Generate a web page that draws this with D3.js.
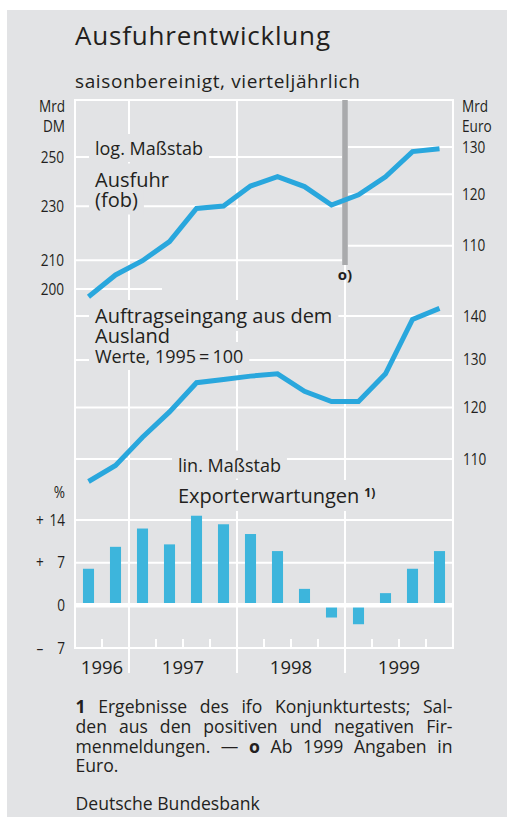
<!DOCTYPE html>
<html><head><meta charset="utf-8">
<script src="https://cdn.jsdelivr.net/npm/d3@7"></script>
<style>
body{margin:0;background:#fff}
svg{display:block}
text{font-family:"Open Sans","Noto Sans",sans-serif;fill:#231f20}
</style>
</head><body>
<svg id="c" width="515" height="817"></svg>
<script>
// ---------------- data ----------------
const quarters = ["1996 Q3","1996 Q4","1997 Q1","1997 Q2","1997 Q3","1997 Q4",
  "1998 Q1","1998 Q2","1998 Q3","1998 Q4","1999 Q1","1999 Q2","1999 Q3","1999 Q4"];
const years = ["1996","1997","1998","1999"];
// Ausfuhr (fob): Mrd DM until 1998, Mrd Euro from 1999
const ausfuhrDM = [197.4,204.8,209.8,216.7,229.2,230.1,238.0,241.8,237.8,230.5];
const ausfuhrEuro = [119.9,123.6,129.0,129.6];
// Auftragseingang aus dem Ausland, 1995 = 100
const auftrag = [105.9,108.8,114.1,119.1,125.1,125.8,126.5,127.0,123.3,121.2,121.2,127.0,139.2,141.8];
// Exporterwartungen (ifo), Salden in %
const exportErw = [6.0,9.6,12.6,10.0,14.7,13.3,11.7,8.9,2.7,-2.0,-3.1,2.0,6.0,8.9];
const dmTicks = [200,210,230,250];
const euroTicks = [110,120,130];
const auftragTicks = [110,120,130,140];
const pctTicks = [-7,0,7,14];
const pctLabels = [["–","7"],["","0"],["+","7"],["+","14"]];
const DM_PER_EURO = 1.95583;
const footLines = [
  [{t:"1",b:true},{t:" Ergebnisse des ifo Konjunkturtests; Sal-"}],
  [{t:"den aus den positiven und negativen Fir-"}],
  [{t:"menmeldungen. — "},{t:"o",b:true},{t:" Ab 1999 Angaben in"}],
  [{t:"Euro."}]
];

// ---------------- layout ----------------
const BG = "#e2e3e5", GRID = "#ffffff", LINEC = "#29a7dd", BARC = "#3db5dc";
const L = 75, R = 453, T = 100, B = 648;
const svg = d3.select("#c");
svg.append("rect").attr("x",7).attr("y",10).attr("width",500).attr("height",817).attr("fill",BG);

const x = d3.scaleBand().domain(quarters).range([L,R]).paddingInner(0).paddingOuter(0);
const xBar = d3.scaleBand().domain(quarters).range([L,R]).paddingInner(0.59).paddingOuter(0.295);
const cx = q => x(q) + x.bandwidth()/2;
const yDM = d3.scaleLog().domain([200,250]).range([289,157]);
const yEuro = v => yDM(v*DM_PER_EURO);
const yAuf = d3.scaleLog().domain([110,140]).range([459,316]);
const yPct = d3.scaleLinear().domain([-7,14]).range([B,520]);

const euroStart = x("1999 Q1");

const gGrid = svg.append("g");
const gMask = svg.append("g");
const gData = svg.append("g");
const gText = svg.append("g");

function hline(y,x1,x2,w){ gGrid.append("line").attr("x1",x1).attr("x2",x2).attr("y1",y).attr("y2",y)
  .attr("stroke",GRID).attr("stroke-width",w||2); }
function vline(xx,y1,y2,w){ gGrid.append("line").attr("x1",xx).attr("x2",xx).attr("y1",y1).attr("y2",y2)
  .attr("stroke",GRID).attr("stroke-width",w||2); }

// frame
hline(T,L-1,R+1); hline(B,L-1,R+1);
vline(L,T,B); vline(R,T,B);
// year separators & quarter ticks
quarters.forEach((q,i)=>{
  if(i===0) return;
  const xx = x(q);
  if(q.endsWith("Q1")) vline(xx,T,673);
  else vline(xx,639,B);
});
// DM grid (until 1998), Euro grid (from 1999)
dmTicks.forEach(t=> hline(yDM(t), L, t===200 ? 162 : euroStart-3));
euroTicks.forEach(t=> hline(yEuro(t), euroStart+3, R));
auftragTicks.forEach(t=> hline(yAuf(t), L, R));
pctTicks.filter(t=>t>0).forEach(t=> hline(yPct(t), L, R));

// gray break bar (Euro changeover)
gData.append("rect").attr("x",euroStart-2.75).attr("y",T).attr("width",5.5).attr("height",165).attr("fill","#a9aaac");

// ---------------- data marks ----------------
const line = d3.line().x(d=>d[0]).y(d=>d[1]);
const ausPts = quarters.map((q,i)=>[cx(q), i<ausfuhrDM.length ? yDM(ausfuhrDM[i]) : yEuro(ausfuhrEuro[i-ausfuhrDM.length])]);
gData.append("path").attr("d",line(ausPts)).attr("fill","none").attr("stroke",LINEC).attr("stroke-width",5);
const aufPts = quarters.map((q,i)=>[cx(q), yAuf(auftrag[i])]);
gData.append("path").attr("d",line(aufPts)).attr("fill","none").attr("stroke",LINEC).attr("stroke-width",5);

gData.selectAll("rect.bar").data(exportErw).join("rect").attr("class","bar")
  .attr("x",(d,i)=>xBar(quarters[i])).attr("width",xBar.bandwidth())
  .attr("y",d=>yPct(Math.max(d,0))).attr("height",d=>Math.abs(yPct(d)-yPct(0)))
  .attr("fill",BARC);
gData.append("line").attr("x1",L).attr("x2",R).attr("y1",yPct(0)).attr("y2",yPct(0))
  .attr("stroke",GRID).attr("stroke-width",4.5);

// ---------------- text ----------------
function maskBox(node){
  const bb = node.getBBox();
  gMask.append("rect").attr("x",bb.x-6).attr("y",bb.y-2).attr("width",bb.width+12).attr("height",bb.height+4).attr("fill",BG);
}
function txt(s,xx,yy,size,opt){
  opt = opt||{};
  const t = gText.append("text").attr("x",xx).attr("y",yy).attr("font-size",size).text(s);
  if(opt.anchor) t.attr("text-anchor",opt.anchor);
  if(opt.weight) t.attr("font-weight",opt.weight);
  if(opt.len) t.attr("textLength",opt.len).attr("lengthAdjust","spacing");
  if(opt.mask) maskBox(t.node());
  return t;
}
// multi-line label: one text element, one tspan per line
function block(lines,xx,mask){
  const t = gText.append("text");
  lines.forEach(l=>{
    const ts = t.append("tspan").attr("x",xx).attr("y",l.y).attr("font-size",l.size).text(l.s);
    if(mask) maskBox(ts.node());
  });
  return t;
}
function ctxt(s,xx,yy,size,anchor){ // condensed axis text
  return gText.append("text").attr("transform",`translate(${xx},${yy}) scale(0.85,1)`)
    .attr("font-size",size).attr("text-anchor",anchor).text(s);
}
function cblock(lines,xx,anchor){
  const t = gText.append("text").attr("transform",`translate(${xx},0) scale(0.85,1)`)
    .attr("font-size",16).attr("text-anchor",anchor);
  lines.forEach(l=> t.append("tspan").attr("x",0).attr("y",l.y).text(l.s));
}

txt("Ausfuhrentwicklung",75,45,26,{len:255});
txt("saisonbereinigt, vierteljährlich",75,88,19,{len:285});

cblock([{s:"Mrd",y:112},{s:"DM",y:132}],65,"end");
cblock([{s:"Mrd",y:112},{s:"Euro",y:132}],462,"start");

dmTicks.forEach(t=> ctxt(String(t),64,yDM(t)+5.5,16,"end"));
euroTicks.forEach(t=> ctxt(String(t),462,yEuro(t)+5.5,16,"start"));
auftragTicks.forEach(t=> ctxt(String(t),463,yAuf(t)+5.5,16,"start"));
ctxt("%",65,498,16,"end");
pctTicks.forEach((t,i)=>{
  const [s,n] = pctLabels[i];
  if(s) ctxt(s,40,yPct(t)+5.5,16,"middle");
  ctxt(n,65,yPct(t)+5.5,16,"end");
});

txt("log. Maßstab",95,155,18,{mask:true});
block([{s:"Ausfuhr",y:186.5,size:20},{s:"(fob)",y:206.5,size:20}],95,true);
block([{s:"Auftragseingang aus dem",y:323,size:20},{s:"Ausland",y:343,size:20},
       {s:"Werte, 1995\u2009=\u2009100",y:363,size:18}],95,true);
txt("lin. Maßstab",178,471.5,18,{mask:true});
const ex = txt("Exporterwartungen",178,503,20,{mask:true});
const exBB = ex.node().getBBox();
txt("1)",exBB.x+exBB.width+5,497,12,{weight:"bold"});

gText.append("text").attr("x",euroStart).attr("y",280).attr("font-size",15).attr("font-weight","bold")
  .attr("text-anchor","middle").text("o)");

years.forEach(yr=>{
  const qs = quarters.filter(q=>q.startsWith(yr));
  const x0 = x(qs[0]), x1 = x(qs[qs.length-1]) + x.bandwidth();
  txt(yr,(x0+x1)/2,674,18.5,{anchor:"middle"});
});

// footnote, justified, one text element
const FX = 75.5, FW = 377;
const foot = gText.append("text").attr("font-size",17.6);
footLines.forEach((segs,i)=>{
  const ln = foot.append("tspan").attr("x",FX).attr("y",713+i*19.8);
  segs.forEach(s=>{ const ts = ln.append("tspan").text(s.t); if(s.b) ts.attr("font-weight","bold"); });
  if(i < footLines.length-1){
    const w = ln.node().getComputedTextLength();
    const full = segs.map(s=>s.t).join("");
    const gaps = (full.match(/ /g)||[]).length;
    ln.attr("word-spacing", (FW - w)/gaps);
  }
});
txt("Deutsche Bundesbank",75.5,810,17.6);
</script>
</body></html>
